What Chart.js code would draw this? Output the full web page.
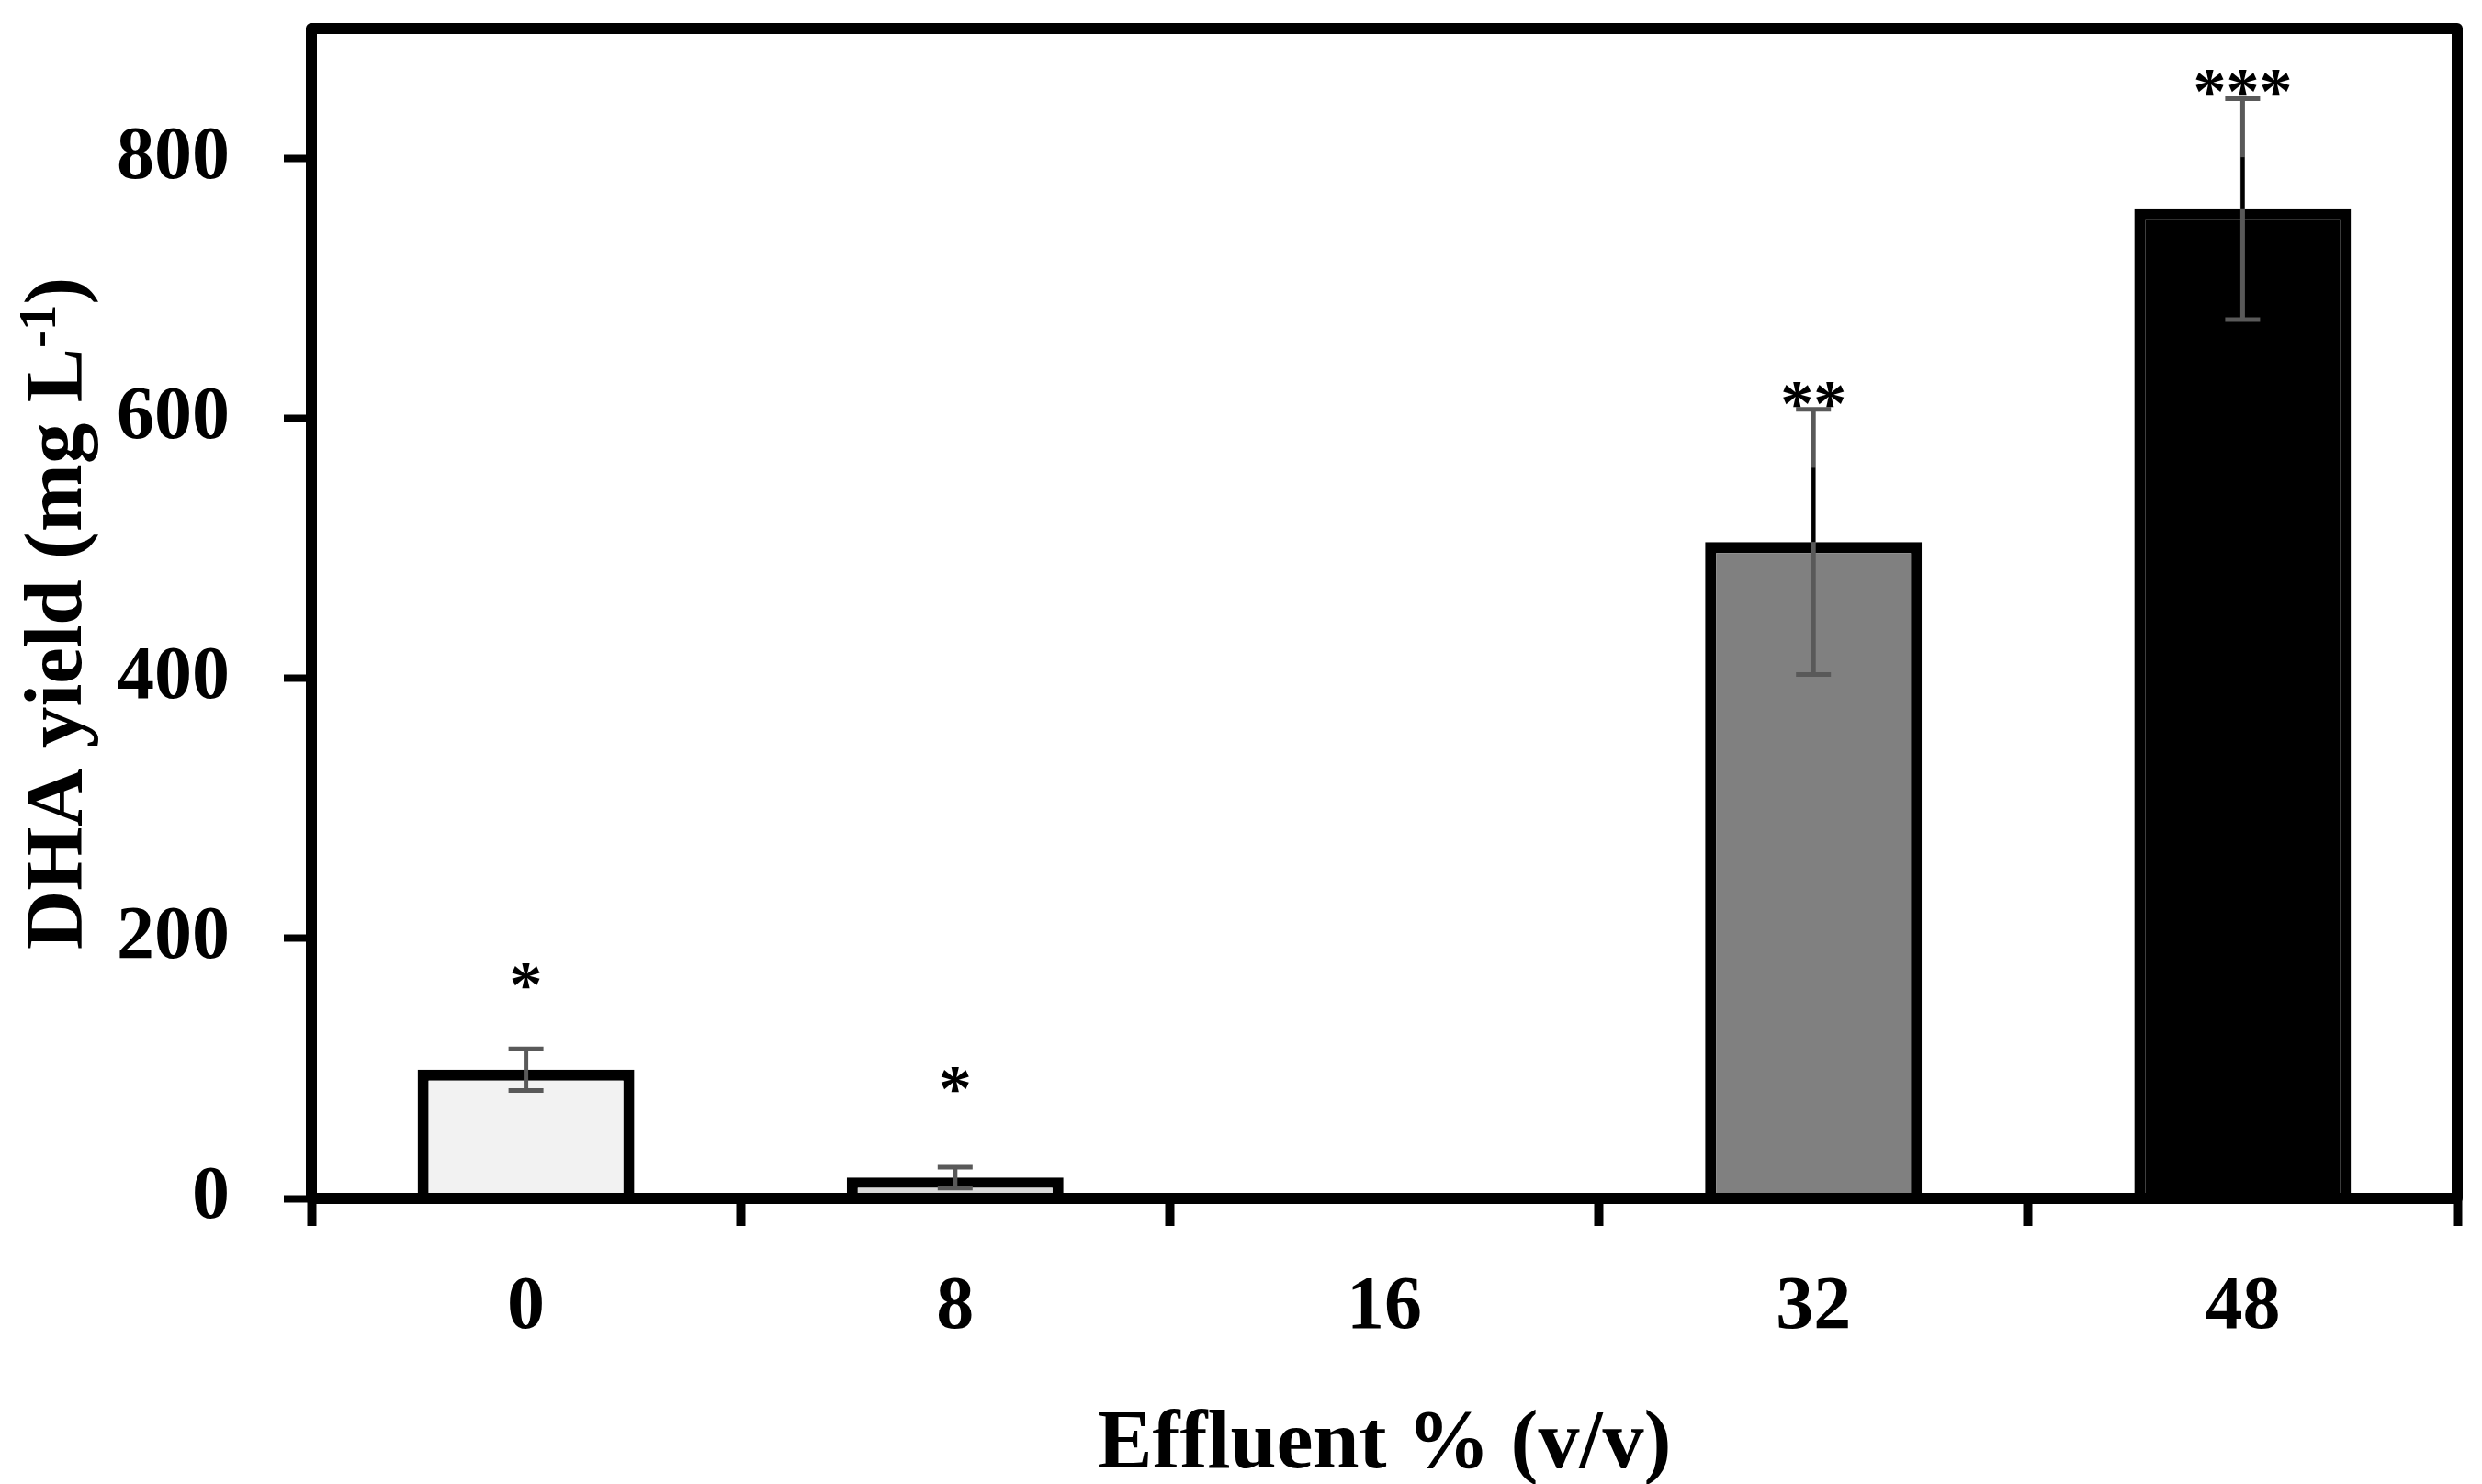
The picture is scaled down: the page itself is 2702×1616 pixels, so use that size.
<!DOCTYPE html>
<html>
<head>
<meta charset="utf-8">
<script src="https://cdn.jsdelivr.net/npm/chart.js@4"></script>
<style>
  html, body { margin: 0; padding: 0; background: #fff; }
  #chart { display: block; }
</style>
</head>
<body>
<canvas id="chart" width="2702" height="1616"></canvas>
<script>
// data
const categories = ['0', '8', '16', '32', '48'];
const dhaYield = [99, 16, 0, 505, 761];
const dhaError = [16, 8, 0, 102, 85];
const dhaErrorBlack = [0, 0, 0, 57, 40];   // short black segment over the grey bar
const stars = ['*', '*', '', '**', '***'];
const starLevel = [172, 92, null, 619, 859];
const barColors = ['#f2f2f2', '#d9d9d9', '#bfbfbf', '#808080', '#000000'];
const yTicks = [0, 200, 400, 600, 800];

const FONT = '"Liberation Serif", "Times New Roman", serif';

// frame around the plot area
const frame = {
    id: 'frame',
    afterDatasetsDraw(chart) {
        const { ctx, chartArea: a } = chart;
        ctx.save();
        ctx.strokeStyle = '#000';
        ctx.lineWidth = 12;
        ctx.lineJoin = 'round';
        ctx.strokeRect(a.left, a.top, a.right - a.left, a.bottom - a.top);
        ctx.restore();
    }
};

// error bars and significance stars
const errorBars = {
    id: 'errorBars',
    afterDatasetsDraw(chart) {
        const { ctx, scales: { x, y } } = chart;
        ctx.save();
        dhaYield.forEach((v, i) => {
            const cx = x.getPixelForValue(i);
            if (dhaError[i] > 0) {
                const top = y.getPixelForValue(v + dhaError[i]);
                const bot = y.getPixelForValue(v - dhaError[i]);
                ctx.strokeStyle = '#595959';
                ctx.lineWidth = 5;
                ctx.beginPath();
                ctx.moveTo(cx, top); ctx.lineTo(cx, bot);
                ctx.moveTo(cx - 19, top); ctx.lineTo(cx + 19, top);
                ctx.moveTo(cx - 19, bot); ctx.lineTo(cx + 19, bot);
                ctx.stroke();
            }
            if (dhaErrorBlack[i] > 0) {
                ctx.strokeStyle = '#000';
                ctx.lineWidth = 4;
                ctx.beginPath();
                ctx.moveTo(cx, y.getPixelForValue(v));
                ctx.lineTo(cx, y.getPixelForValue(v + dhaErrorBlack[i]));
                ctx.stroke();
            }
            if (stars[i]) {
                ctx.fillStyle = '#000';
                ctx.font = 'bold 72px ' + FONT;
                ctx.textAlign = 'center';
                ctx.textBaseline = 'alphabetic';
                ctx.fillText(stars[i], cx, y.getPixelForValue(starLevel[i]) + 34);
            }
        });
        ctx.restore();
    }
};

// axis titles (y title needs a superscript)
const axisTitles = {
    id: 'axisTitles',
    afterDraw(chart) {
        const { ctx, chartArea: a } = chart;
        ctx.save();
        ctx.fillStyle = '#000';
        ctx.textBaseline = 'alphabetic';
        ctx.font = 'bold 90px ' + FONT;
        ctx.textAlign = 'center';
        ctx.fillText('Effluent % (v/v)', (a.left + a.right) / 2, 1598);

        const main = 'bold 89px ' + FONT;
        const sup = 'bold 57px ' + FONT;
        const parts = [['DHA yield (mg L', main, 0], ['-1', sup, 28], [')', main, 0]];
        let total = 0;
        parts.forEach(p => { ctx.font = p[1]; p.push(ctx.measureText(p[0]).width); total += p[3]; });
        ctx.translate(88, (a.top + a.bottom) / 2);
        ctx.rotate(-Math.PI / 2);
        ctx.textAlign = 'left';
        let px = -total / 2;
        parts.forEach(p => {
            ctx.font = p[1];
            ctx.fillText(p[0], px, -p[2]);
            px += p[3];
        });
        ctx.restore();
    }
};

new Chart(document.getElementById('chart'), {
    type: 'bar',
    data: {
        labels: categories,
        datasets: [{
            data: dhaYield,
            backgroundColor: barColors,
            borderColor: '#000',
            borderWidth: 12,
            borderSkipped: 'start',
            categoryPercentage: 1,
            barPercentage: 0.505
        }]
    },
    options: {
        responsive: false,
        devicePixelRatio: 1,
        animation: false,
        layout: { padding: { left: 0, top: 31, right: 27, bottom: 0 } },
        plugins: {
            legend: { display: false },
            tooltip: { enabled: false }
        },
        scales: {
            x: {
                border: { display: false },
                grid: {
                    offset: true,
                    drawOnChartArea: false,
                    drawTicks: true,
                    tickLength: 30,
                    tickWidth: 10,
                    tickColor: '#000'
                },
                ticks: {
                    color: '#000',
                    padding: 41,
                    font: { family: FONT, size: 82, weight: 'bold' }
                },
                afterFit: s => {
                    s.height = 311;
                    s.paddingLeft = 0;
                    s.paddingRight = 0;
                }
            },
            y: {
                min: 0,
                max: 900,
                border: { display: false },
                grid: {
                    drawOnChartArea: false,
                    drawTicks: true,
                    tickLength: 30,
                    tickWidth: 8,
                    tickColor: '#000'
                },
                ticks: {
                    color: '#000',
                    padding: 59,
                    font: { family: FONT, size: 82, weight: 'bold' }
                },
                afterBuildTicks: s => { s.ticks = yTicks.map(v => ({ value: v })); },
                afterFit: s => {
                    s.width = 339;
                    s.paddingTop = 0;
                    s.paddingBottom = 0;
                }
            }
        }
    },
    plugins: [frame, errorBars, axisTitles]
});
</script>
</body>
</html>
